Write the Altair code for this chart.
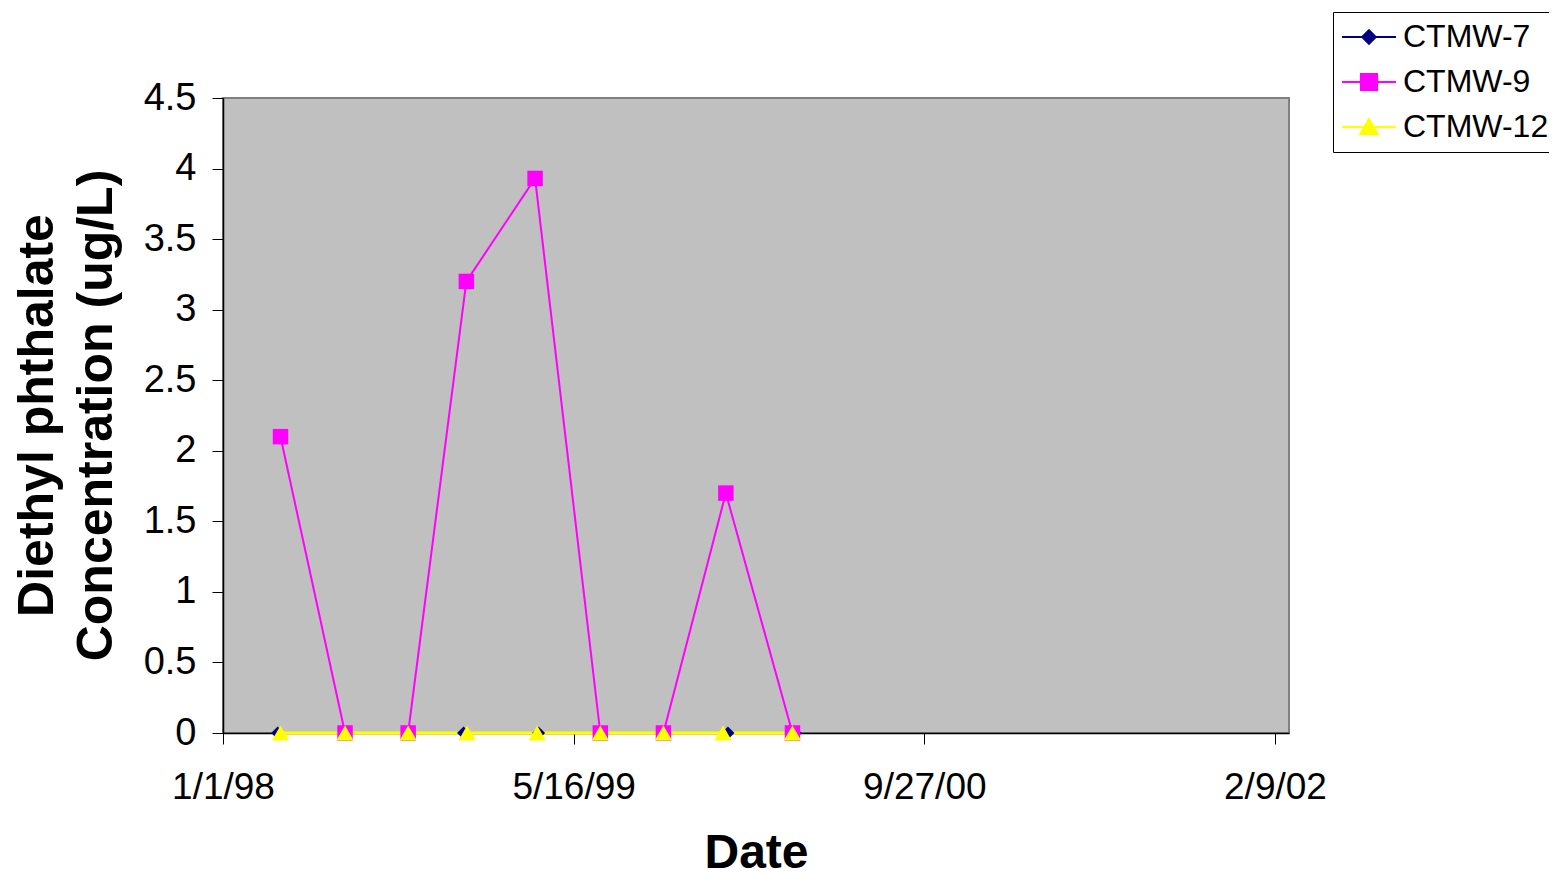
import altair as alt
import pandas as pd

series_names = ["CTMW-7", "CTMW-9", "CTMW-12"]
series_colors = ["#000080", "#FF00FF", "#FFFF00"]
series_shapes = ["diamond", "square", "triangle-up"]
series_sizes = [170, 240, 300]
series_widths = [2, 2, 3]

ctmw7_dates = ["1998-03-20", "1998-06-24", "1998-09-22", "1998-12-10", "1999-03-27",
               "1999-06-23", "1999-09-21", "1999-12-22", "2000-03-27"]
ctmw7_values = [0, 0, 0, 0, 0, 0, 0, 0, 0]

ctmw9_dates = ["1998-03-24", "1998-06-24", "1998-09-22", "1998-12-14", "1999-03-22",
               "1999-06-23", "1999-09-21", "1999-12-19", "2000-03-23"]
ctmw9_values = [2.1, 0, 0, 3.2, 3.93, 0, 0, 1.7, 0]

ctmw12_dates = ["1998-03-24", "1998-06-24", "1998-09-22", "1998-12-15", "1999-03-25",
                "1999-06-23", "1999-09-21", "1999-12-15", "2000-03-23"]
ctmw12_values = [0, 0, 0, 0, 0, 0, 0, 0, 0]

x_tick_dates = [(1998, 1, 1), (1999, 5, 16), (2000, 9, 27), (2002, 2, 9)]
y_ticks = [0, 0.5, 1, 1.5, 2, 2.5, 3, 3.5, 4, 4.5]

# legend glyphs: a line segment with the series marker on it (unit coordinates)
legend_paths = [
    "M-1,0H1M0,-0.25L0.25,0L0,0.25L-0.25,0Z",
    "M-1,0H1M-0.3,-0.3H0.3V0.3H-0.3Z",
    "M-1,0H1M0,-0.3L0.33,0.27L-0.33,0.27Z",
]

rows = []
for name, dates, vals in [("CTMW-7", ctmw7_dates, ctmw7_values),
                          ("CTMW-9", ctmw9_dates, ctmw9_values),
                          ("CTMW-12", ctmw12_dates, ctmw12_values)]:
    for d, v in zip(dates, vals):
        rows.append({"series": name, "date": d, "value": v})
df = pd.DataFrame(rows)

FONT = "Liberation Sans"

def dt(y, m, d):
    return alt.DateTime(year=y, month=m, date=d, utc=True)

x_enc = alt.X(
    "date:T",
    scale=alt.Scale(type="utc", domain=[dt(1998, 1, 1), dt(2002, 3, 1)]),
    axis=alt.Axis(
        values=[dt(*t) for t in x_tick_dates],
        labelExpr="utcFormat(datum.value, '%-m/%-d/%y')",
        title="Date", titleFont=FONT, titleFontSize=48, titleFontWeight="bold",
        titleColor="black", titleX=533, titleY=134, titleAlign="center",
        titleBaseline="alphabetic", titleAnchor="start",
        labelFont=FONT, labelFontSize=37, labelColor="black", labelPadding=25,
        tickSize=11, tickColor="black", domainColor="black", domainWidth=1.5,
        grid=False, labelFlush=False, labelOverlap=False,
    ),
)
y_enc = alt.Y(
    "value:Q",
    scale=alt.Scale(domain=[0, 4.5], nice=False, zero=True),
    axis=alt.Axis(
        values=y_ticks, format="~g",
        title=["Diethyl phthalate", "Concentration (ug/L)"],
        titleFont=FONT, titleFontSize=50, titleFontWeight="bold", titleColor="black",
        titleLineHeight=59, titleAngle=270, titleX=-171, titleY=317,
        titleAlign="center", titleBaseline="alphabetic", titleAnchor="start",
        labelFont=FONT, labelFontSize=38, labelColor="black", labelPadding=16,
        tickSize=11, tickColor="black", domainColor="black", domainWidth=1.5,
        grid=False, labelFlush=False, labelOverlap=False,
    ),
)

legend = alt.Legend(
    orient="none", legendX=1110, legendY=-86, title=None,
    padding=8, strokeColor="black", fillColor="white",
    symbolSize=2916, clipHeight=34, rowPadding=11,
    symbolStrokeWidth=2, symbolOpacity=1,
    labelFont=FONT, labelFontSize=32, labelColor="black",
    labelOffset=6, labelLimit=400,
)

layers = []
for name, col, w in zip(series_names, series_colors, series_widths):
    layers.append(
        alt.Chart(df).transform_filter(alt.datum.series == name)
        .mark_line(color=col, strokeWidth=w)
        .encode(x=x_enc, y=y_enc)
    )
for name, col, shp, sz in zip(series_names, series_colors, series_shapes, series_sizes):
    layers.append(
        alt.Chart(df).transform_filter(alt.datum.series == name)
        .mark_point(filled=True, opacity=1, shape=shp, size=sz, color=col)
        .encode(x=x_enc, y=y_enc)
    )

legend_layer = alt.Chart(df).mark_point(filled=True, opacity=0, strokeWidth=2).encode(
    x=x_enc, y=y_enc,
    color=alt.Color("series:N", scale=alt.Scale(domain=series_names, range=series_colors), legend=legend),
    stroke=alt.Stroke("series:N", scale=alt.Scale(domain=series_names, range=series_colors), legend=legend),
    shape=alt.Shape("series:N", scale=alt.Scale(domain=series_names, range=legend_paths), legend=legend),
)
layers.append(legend_layer)

chart = alt.layer(*layers).properties(
    width=1066, height=635,
    padding={"left": 215, "top": 90, "right": 260, "bottom": 145},
    autosize=alt.AutoSizeParams(type="none"),
    background="white",
).configure_view(
    fill="#C0C0C0", stroke="#808080", strokeWidth=2,
)

chart.save("out.html", embed_options={"renderer": "svg", "actions": False})
